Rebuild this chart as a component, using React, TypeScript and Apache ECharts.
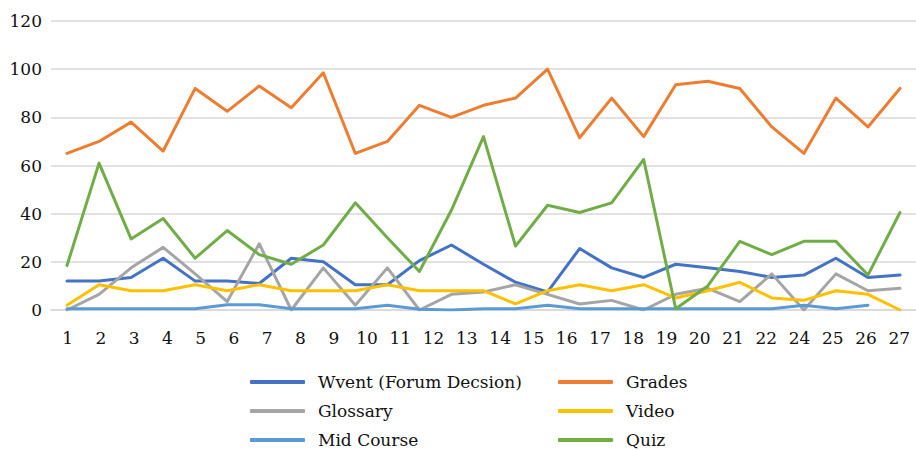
import React, { useEffect, useRef } from "react";
import * as echarts from "echarts";

const tickLabels = ["1","2","3","4","5","6","7","8","9","10","11","12","13","14","15","16","17","18","19","20","21","22","24","25","26","27"];
const pointIndex = [1,2,3,4,5,6,7,8,9,10,11,12,13,14,15,16,17,18,19,20,21,22,23,24,25,26,27];

const wvent = [12, 12, 13.5, 21.5, 12, 12, 11, 21.5, 20, 10.5, 10.5, 20.5, 27, 19, 11.5, 7.5, 25.5, 17.5, 13.5, 19, 17.5, 16, 13.5, 14.5, 21.5, 13.5, 14.5];
const grades = [65, 70, 78, 66, 92, 82.5, 93, 84, 98.5, 65, 70, 85, 80, 85, 88, 100, 71.5, 88, 72, 93.5, 95, 92, 76, 65, 88, 76, 92];
const glossary = [0, 6.5, 17.5, 26, 15, 3.5, 27.5, 0, 17.5, 2, 17.5, 0, 6.5, 7.5, 10.5, 6.5, 2.5, 4, 0, 6.5, 9, 3.5, 15, 0, 15, 8, 9];
const video = [2, 10.5, 8, 8, 10.5, 8, 10.5, 8, 8, 8, 10.5, 8, 8, 8, 2.5, 8, 10.5, 8, 10.5, 5, 8, 11.5, 5, 4, 8, 6.5, 0];
const midCourse = [0.5, 0.5, 0.5, 0.5, 0.5, 2.2, 2.2, 0.5, 0.5, 0.5, 2, 0.3, 0, 0.5, 0.5, 2, 0.5, 0.5, 0.5, 0.5, 0.5, 0.5, 0.5, 2, 0.5, 2, null];
const quiz = [18.5, 61, 29.5, 38, 21.5, 33, 23, 19, 27, 44.5, 30, 16, 41.5, 72, 26.5, 43.5, 40.5, 44.5, 62.5, 0.5, 10, 28.5, 23, 28.5, 28.5, 14.5, 40.5];

const seriesDefs = [
  { name: "Wvent (Forum Decsion)", data: wvent, color: "#4472C4" },
  { name: "Grades", data: grades, color: "#ED7D31" },
  { name: "Glossary", data: glossary, color: "#A5A5A5" },
  { name: "Video", data: video, color: "#FFC000" },
  { name: "Mid Course", data: midCourse, color: "#5B9BD5" },
  { name: "Quiz", data: quiz, color: "#70AD47" },
];

const FONT = "DejaVu Serif";
const FS = 17;

export default function App() {
  const ref = useRef<HTMLDivElement>(null);
  useEffect(() => {
    if (!ref.current) return;
    const chart = echarts.init(ref.current, null, { renderer: "svg" });
    const legendCommon = {
      orient: "vertical",
      top: 372,
      height: 78,
      padding: 0,
      itemWidth: 55,
      itemHeight: 4,
      itemGap: 9,
      icon: "roundRect",
      textStyle: { fontFamily: FONT, fontSize: FS, color: "#111", lineHeight: 20, padding: [0, 0, 0, 8] },
    };
    chart.setOption({
      animation: false,
      backgroundColor: "#fff",
      textStyle: { fontFamily: FONT },
      grid: { left: 51, right: 0, top: 21, bottom: 140, containLabel: false },
      legend: [
        { ...legendCommon, left: 250, data: [seriesDefs[0].name, seriesDefs[2].name, seriesDefs[4].name] },
        { ...legendCommon, left: 558, data: [seriesDefs[1].name, seriesDefs[3].name, seriesDefs[5].name] },
      ],
      xAxis: [
        {
          type: "category",
          data: tickLabels,
          boundaryGap: true,
          axisLine: { show: true, lineStyle: { color: "#D9D9D9", width: 1.5 } },
          axisTick: { show: false },
          axisLabel: { fontFamily: FONT, fontSize: FS, color: "#111", margin: 19, interval: 0 },
          splitLine: { show: false },
        },
        {
          type: "value",
          min: 0.5,
          max: 27.5,
          show: false,
          splitLine: { show: false },
        },
      ],
      yAxis: {
        type: "value",
        min: 0,
        max: 120,
        interval: 20,
        axisLine: { show: false },
        axisTick: { show: false },
        axisLabel: { fontFamily: FONT, fontSize: FS, color: "#111", margin: 9 },
        splitLine: { lineStyle: { color: "#D9D9D9", width: 1.5 } },
      },
      series: seriesDefs.map((s) => ({
        name: s.name,
        type: "line",
        xAxisIndex: 1,
        data: s.data.map((v, i) => [pointIndex[i], v]),
        showSymbol: false,
        symbol: "none",
        connectNulls: false,
        color: s.color,
        lineStyle: { width: 3, color: s.color, cap: "round", join: "round" },
      })),
    });
    return () => chart.dispose();
  }, []);
  return <div ref={ref} style={{ position: "absolute", left: 0, top: 0, width: 916, height: 450 }} />;
}
